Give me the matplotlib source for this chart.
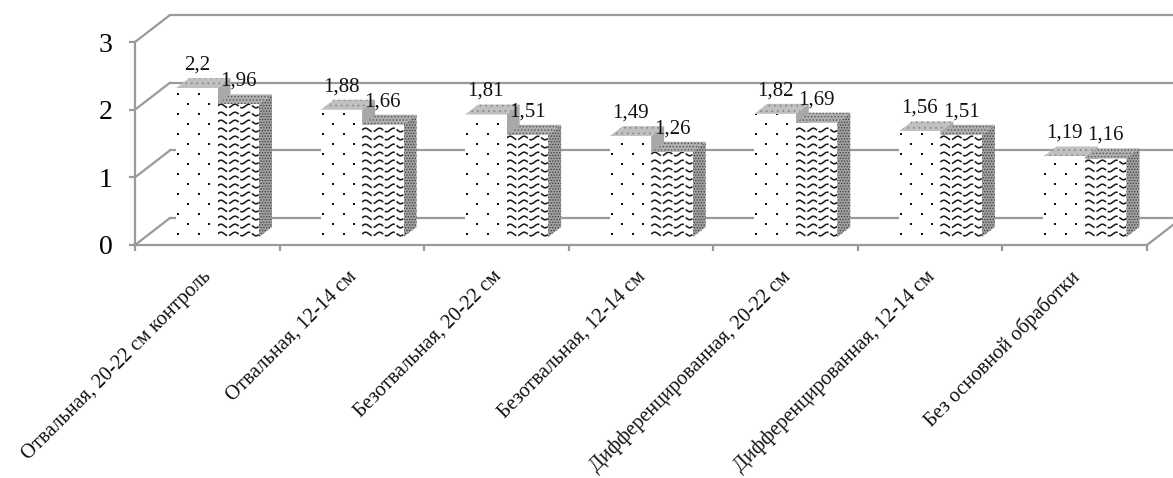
import numpy as np
import matplotlib
matplotlib.use("Agg")
import matplotlib.pyplot as plt
from matplotlib.patches import Polygon

categories = ["Отвальная, 20-22 см контроль", "Отвальная, 12-14 см", "Безотвальная, 20-22 см",
              "Безотвальная, 12-14 см", "Дифференцированная, 20-22 см",
              "Дифференцированная, 12-14 см", "Без основной обработки"]
series_a = [2.2, 1.88, 1.81, 1.49, 1.82, 1.56, 1.19]
series_b = [1.96, 1.66, 1.51, 1.26, 1.69, 1.51, 1.16]
labels_a = ["2,2", "1,88", "1,81", "1,49", "1,82", "1,56", "1,19"]
labels_b = ["1,96", "1,66", "1,51", "1,26", "1,69", "1,51", "1,16"]
y_ticks = [0, 1, 2, 3]

plt.rcParams['font.family'] = ['Liberation Serif', 'DejaVu Serif']
plt.rcParams['hatch.linewidth'] = 0.6
W, H = 1173, 478
L, R, B, T = 135, 1147, 245, 42
fig = plt.figure(figsize=(W/100, H/100), dpi=100)
ax = fig.add_axes([L/W, 1-B/H, (R-L)/W, (B-T)/H])
ax.set_xlim(-0.5, 6.5)
ax.set_ylim(0, 3)
PX = 7/(R-L)           # one pixel in x data units
PY = 3/(B-T)           # one pixel in y data units
GRID = '#9a9a9a'
lw = 1.6

# walls
for v in y_ticks:
    ax.plot([-0.5, -0.5+35*PX], [v, v+27*PY], color=GRID, lw=lw, clip_on=False, zorder=1, solid_capstyle='round')
    ax.plot([-0.5+35*PX, 6.5+35*PX], [v+27*PY]*2, color=GRID, lw=lw, clip_on=False, zorder=1)
ax.plot([6.5, 6.5+35*PX], [0, 27*PY], color=GRID, lw=lw, clip_on=False, zorder=1)

for s in ('top', 'right'):
    ax.spines[s].set_visible(False)
for s in ('left', 'bottom'):
    ax.spines[s].set_color(GRID)
    ax.spines[s].set_linewidth(lw)
ax.set_yticks(y_ticks)
ax.set_yticklabels([str(v) for v in y_ticks], fontsize=20)
ax.tick_params(axis='y', length=4, color=GRID, width=lw, pad=12)
ax.set_xticks(np.arange(-0.5, 7, 1))
ax.set_xticklabels([])
ax.tick_params(axis='x', length=4, color=GRID, width=lw)

# category labels
for i, c in enumerate(categories):
    ax.annotate(c, (i, 0), xytext=(-5, -22), textcoords='offset pixels', rotation=45,
                ha='right', va='top', rotation_mode='anchor', fontsize=14.7,
                annotation_clip=False, color='#111111')

BW = 41.5*PX
X0 = (176-L)*PX - 0.5
BASE = 8*PY
DX, DY = 13*PX, 10*PY


def dots(bar, x, top):
    ys = np.arange(BASE+3*PY, top, 10*PY)
    for k, yy in enumerate(ys):
        cols = [2, 23] if k % 2 == 0 else [12, 33]
        xs = [x+c*PX for c in cols]
        sc = ax.scatter(xs, [yy]*2, s=3.2, c='#111111', marker='s', lw=0, zorder=5)
        sc.set_clip_path(bar)


def waves(bar, x, top):
    xx = np.arange(x, x+BW, 0.25*PX)
    for k, yy in enumerate(np.arange(BASE+3*PY, top, 8*PY)):
        wave = yy + 1.8*PY*np.sin((xx-x)/PX*2*np.pi/14)
        line, = ax.plot(xx, wave, color='#1c1c1c', lw=1.15, zorder=5, dashes=(7, 1.2))
        line.set_clip_path(bar)


def block(x, v, top_col, side_col, tex, dense):
    top = BASE+v
    side = Polygon([(x+BW, BASE), (x+BW+DX, BASE+DY), (x+BW+DX, top+DY), (x+BW, top)],
                   fc=side_col, ec='#3c3c3c', lw=0, hatch='......' if dense else None, zorder=3)
    ax.add_patch(side)
    cap = Polygon([(x, top), (x+DX, top+DY), (x+BW+DX, top+DY), (x+BW, top)],
                  fc=top_col, ec='#555555' if dense else '#8a8a8a', lw=0,
                  hatch='.....' if dense else '...', zorder=3)
    ax.add_patch(cap)
    bar = ax.bar(x, v, BW, bottom=BASE, align='edge', color='white', lw=0, zorder=4)[0]
    tex(bar, x, top)


for i in range(len(categories)):
    xa = X0 + i
    xb = xa + BW
    block(xa, series_a[i], '#c0c0c0', '#a8a8a8', dots, False)
    block(xb, series_b[i], '#b0b0b0', '#a0a0a0', waves, True)
    ax.text(xa+BW/2, BASE+series_a[i]+23*PY, labels_a[i], ha='center', va='center',
            fontsize=15, zorder=8, color='#111111')
    ax.text(xb+BW/2, BASE+series_b[i]+23*PY, labels_b[i], ha='center', va='center',
            fontsize=15, zorder=8, color='#111111')

fig.savefig('out.png', dpi=100, facecolor='white')
